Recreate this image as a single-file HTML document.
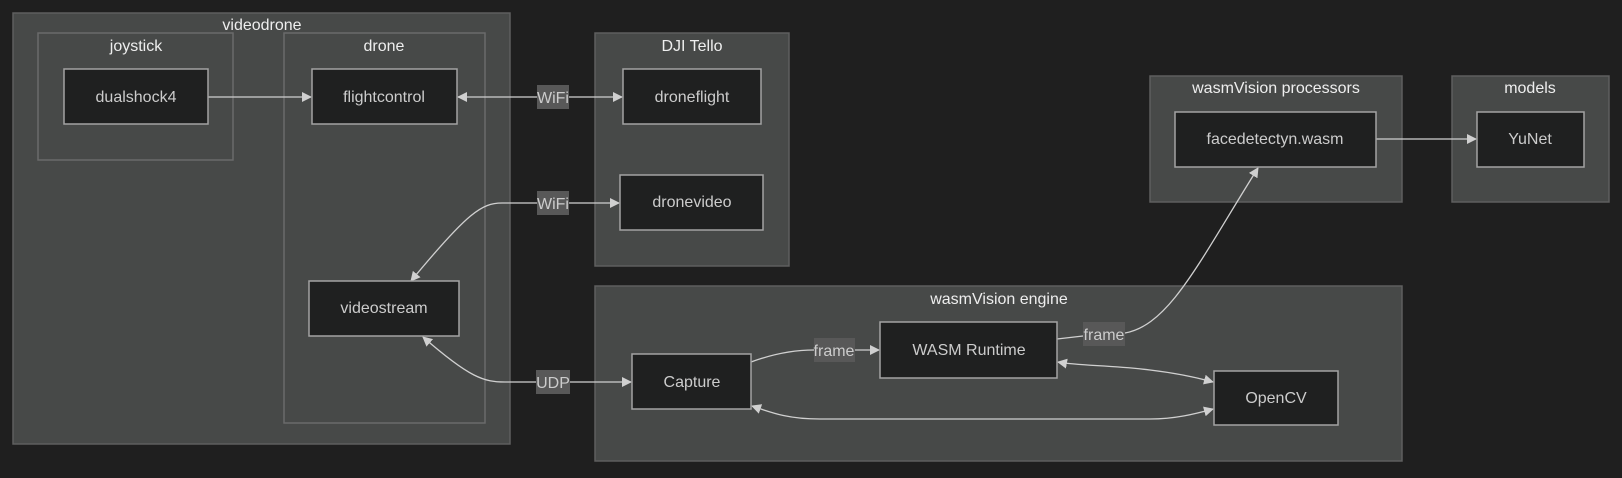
<!DOCTYPE html>
<html><head><meta charset="utf-8"><style>
html,body{margin:0;padding:0;background:#1f1f1f;}
svg{display:block;font-family:"Liberation Sans",Arial,sans-serif;}
.cl{fill:#474948;stroke:#5f5f5f;stroke-width:1.5}
.cl2{fill:#474948;stroke:#6a6a6a;stroke-width:1.5}
.nd{fill:#1f2020;stroke:#a3a3a3;stroke-width:1.5}
.ct{fill:#eeeeee;font-size:16px;text-anchor:middle}
.nt{fill:#cccccc;font-size:16px;text-anchor:middle}
.e{fill:none;stroke:#d0d0d0;stroke-width:1.3}
.lb{fill:#585858}
.lt{fill:#cccccc;font-size:16px;text-anchor:middle}
</style></head><body>
<svg width="1622" height="478" viewBox="0 0 1622 478">
<defs>
<marker id="a" viewBox="0 0 10 10" refX="9" refY="5" markerWidth="10" markerHeight="10" orient="auto-start-reverse" markerUnits="userSpaceOnUse"><path d="M0,0 L10,5 L0,10 z" fill="#d0d0d0"/></marker>
</defs>
<!-- clusters -->
<rect class="cl" x="13" y="13" width="497" height="431"/>
<text class="ct" x="262" y="30">videodrone</text>
<rect class="cl2" x="38" y="33" width="195" height="127"/>
<text class="ct" x="136" y="51">joystick</text>
<rect class="cl2" x="284" y="33" width="201" height="390"/>
<text class="ct" x="384" y="51">drone</text>
<rect class="cl" x="595" y="33" width="194" height="233"/>
<text class="ct" x="692" y="51">DJI Tello</text>
<rect class="cl" x="595" y="286" width="807" height="175"/>
<text class="ct" x="999" y="304">wasmVision engine</text>
<rect class="cl" x="1150" y="76" width="252" height="126"/>
<text class="ct" x="1276" y="93">wasmVision processors</text>
<rect class="cl" x="1452" y="76" width="157" height="126"/>
<text class="ct" x="1530" y="93">models</text>
<!-- edges -->
<path class="e" d="M208 97 L311 97" marker-end="url(#a)"/>
<path class="e" d="M458 97 L622 97" marker-start="url(#a)" marker-end="url(#a)"/>
<path class="e" d="M619 203 L502 203 C482 203,468 212,411 281" marker-start="url(#a)" marker-end="url(#a)"/>
<path class="e" d="M631 382 L505 382 C484 382,470 378,423 337" marker-start="url(#a)" marker-end="url(#a)"/>
<path class="e" d="M751 362 C770 355,790 350,814 350 L879 350" marker-end="url(#a)"/>
<path class="e" d="M1057 339 L1083 336 M1125 333 C1170 325,1200 260,1258 168" marker-end="url(#a)"/>
<path class="e" d="M1058 362 C1080 366,1110 365,1150 370 C1175 373,1195 377,1213 382" marker-start="url(#a)" marker-end="url(#a)"/>
<path class="e" d="M752 406 C775 414,790 419,820 419 L1150 419 C1175 419,1195 414,1213 409" marker-start="url(#a)" marker-end="url(#a)"/>
<path class="e" d="M1376 139 L1476 139" marker-end="url(#a)"/>
<!-- edge labels -->
<rect class="lb" x="537" y="85" width="32" height="24"/><text class="lt" x="553" y="103">WiFi</text>
<rect class="lb" x="537" y="191" width="32" height="24"/><text class="lt" x="553" y="209">WiFi</text>
<rect class="lb" x="536" y="370" width="34" height="24"/><text class="lt" x="553" y="388">UDP</text>
<rect class="lb" x="814" y="338" width="41" height="24"/><text class="lt" x="834" y="356">frame</text>
<rect class="lb" x="1083" y="322" width="42" height="24"/><text class="lt" x="1104" y="340">frame</text>
<!-- nodes -->
<rect class="nd" x="64" y="69" width="144" height="55"/><text class="nt" x="136" y="102">dualshock4</text>
<rect class="nd" x="312" y="69" width="145" height="55"/><text class="nt" x="384" y="102">flightcontrol</text>
<rect class="nd" x="309" y="281" width="150" height="55"/><text class="nt" x="384" y="313">videostream</text>
<rect class="nd" x="623" y="69" width="138" height="55"/><text class="nt" x="692" y="102">droneflight</text>
<rect class="nd" x="620" y="175" width="143" height="55"/><text class="nt" x="692" y="207">dronevideo</text>
<rect class="nd" x="632" y="354" width="119" height="55"/><text class="nt" x="692" y="387">Capture</text>
<rect class="nd" x="880" y="322" width="177" height="56"/><text class="nt" x="969" y="355">WASM Runtime</text>
<rect class="nd" x="1214" y="371" width="124" height="54"/><text class="nt" x="1276" y="403">OpenCV</text>
<rect class="nd" x="1175" y="112" width="201" height="55"/><text class="nt" x="1275" y="144">facedetectyn.wasm</text>
<rect class="nd" x="1477" y="112" width="107" height="55"/><text class="nt" x="1530" y="144">YuNet</text>
</svg>
</body></html>
